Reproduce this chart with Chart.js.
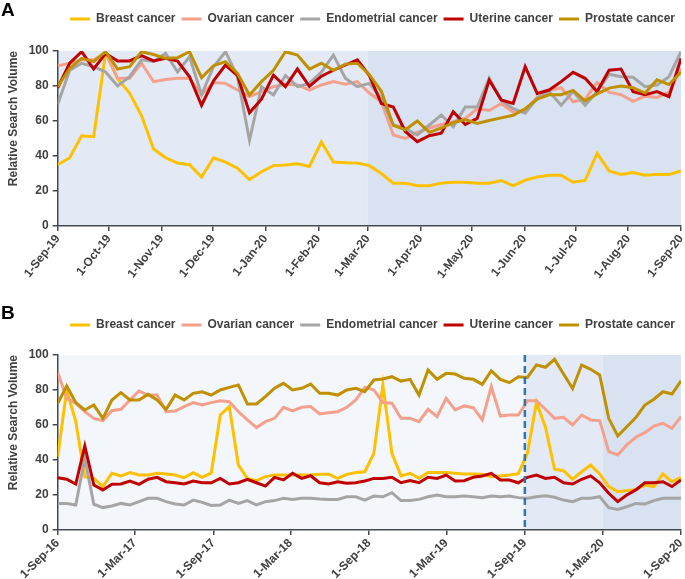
<!DOCTYPE html>
<html>
<head>
<meta charset="utf-8">
<script src="https://cdn.jsdelivr.net/npm/chart.js@4.4.1/dist/chart.umd.min.js"></script>
<style>
    body { margin: 0; background: #ffffff; width: 685px; height: 579px; overflow: hidden; position: relative; }
    .panel { position: absolute; left: 0; width: 685px; }
</style>
</head>
<body>
<div class="panel" style="top:0"><canvas id="chartA" width="685" height="290"></canvas></div>
<div class="panel" style="top:290px"><canvas id="chartB" width="685" height="289"></canvas></div>
<script>
// series names and colours (same for both panels)
const seriesNames = ['Breast cancer', 'Ovarian cancer', 'Endometrial cancer', 'Uterine cancer', 'Prostate cancer'];
const seriesColors = ['#FFC000', '#F4A08C', '#A5A5A5', '#C00000', '#BF9000'];

// panel A: weekly, 1-Sep-19 .. 1-Sep-20
const ticksA = ['1-Sep-19', '1-Oct-19', '1-Nov-19', '1-Dec-19', '1-Jan-20', '1-Feb-20', '1-Mar-20',
    '1-Apr-20', '1-May-20', '1-Jun-20', '1-Jul-20', '1-Aug-20', '1-Sep-20'];
const periodsA = ['1-Sep-19', '1-Mar-20', '1-Sep-20'];

const breastA = [35, 39, 51.5, 51, 99, 84, 76, 63, 44, 39, 36, 35, 28, 39, 36.5, 33, 26.5, 31, 34.5, 34.8,
    35.6, 34, 48, 36.6, 36.2, 36, 34.5, 30, 24.5, 24.5, 23, 23, 24.5, 25, 25, 24.5, 24.5, 26, 23, 26.2,
    28, 29, 29, 25, 26, 41.5, 31.5, 29.5, 30.5, 29, 29.5, 29.5, 31.5];
const ovarianA = [91.5, 93, 95, 95, 99, 84.4, 84.4, 93, 82.5, 83.7, 84.4, 84.4, 75, 82, 81.5, 77.7, 74, 76.8,
    79.6, 81, 80.6, 77.7, 80.6, 82.5, 81, 82.5, 76, 71, 52, 50, 53.5, 56, 58, 59.6, 61.5, 67, 66, 70, 65,
    66, 73.5, 77.5, 79, 71, 72.5, 82, 76.5, 75, 71.2, 74.2, 73.5, 76.5, 90];
const endometrialA = [69.5, 89, 93, 91, 88, 80, 85.3, 95, 94, 98.7, 88, 96.7, 75, 91, 99.6, 85.3, 49, 79.6,
    74.9, 86, 79.6, 81.5, 88, 97.7, 84.4, 79.6, 81.5, 73, 57.7, 55.8, 52, 57.7, 63.4, 56.7, 68, 68, 84.4,
    72, 67, 64.4, 73, 76.8, 69, 76.8, 69, 76.8, 86.7, 85.3, 85, 79.6, 80.6, 85.3, 99.6];
const uterineA = [79, 93, 99.6, 89.7, 98.6, 94.3, 94.3, 97.3, 94.3, 95.8, 94.3, 85.3, 69, 83, 92, 86, 64.7,
    72.5, 86.2, 79.6, 89.7, 79.8, 85.6, 89, 92, 94.9, 86, 70, 68, 54, 48.2, 51.6, 53, 65.3, 58, 61.5, 83.4,
    72, 70, 91, 75.8, 77.7, 82.5, 87.8, 84.4, 76.8, 89, 89.7, 76.8, 75, 76.8, 73.9, 95.8];
const prostateA = [79.6, 90, 95.8, 93.9, 99.6, 89.7, 91, 99.6, 98, 95.8, 96.2, 99.6, 84.8, 91.6, 93.9, 87.2,
    74.9, 82.5, 89, 99.6, 97.7, 89.7, 93, 89, 92.5, 93, 86.5, 77, 57.5, 55, 60, 53.5, 56, 59, 60.8, 58.6,
    60.3, 61.8, 63.3, 67, 72.5, 75, 75, 77.5, 71.5, 75.5, 78.8, 80, 79, 76, 83.5, 80.8, 88];

// panel B: 1-Sep-16 .. 1-Sep-20
const ticksB = ['1-Sep-16', '1-Mar-17', '1-Sep-17', '1-Mar-18', '1-Sep-18', '1-Mar-19', '1-Sep-19',
    '1-Mar-20', '1-Sep-20'];
const periodsB = ['1-Sep-16', '1-Sep-19', '1-Mar-20', '1-Sep-20'];
const markerB = '1-Sep-19';

const breastB = [41.9, 80, 62, 30.5, 29.5, 24.8, 32.4, 30.9, 32.8, 31.4, 31.4, 32.4, 32, 31.4, 29.9, 32.8,
    30.1, 32.6, 65.7, 70.5, 37.1, 29.5, 28.2, 30.5, 31.4, 31.4, 31.4, 31.4, 31.4, 31.8, 31.8, 29.5, 31.8,
    32.8, 33.3, 43.8, 82.9, 43.8, 30.9, 32.4, 29.5, 32.8, 32.8, 32.8, 32.4, 32, 32, 31.8, 30.5, 30.9, 31.4,
    32.2, 43.8, 72.8, 58.7, 34.7, 33.9, 29, 33.3, 37.1, 32, 24.8, 21.9, 22.5, 23.2, 25.7, 24.8, 32, 27.6, 29.9];
const ovarianB = [90, 75.2, 72.4, 67.6, 63.8, 62.5, 68.2, 69, 74.3, 79.4, 77.1, 77.1, 67.6, 68, 70.5, 72.8,
    71.4, 72.8, 73.9, 73.3, 67.6, 62.9, 58.5, 61.9, 63.8, 70.1, 68, 70.1, 70.5, 66.3, 67, 67.6, 70.1, 74.3,
    81.5, 80, 72.8, 72.4, 63.8, 63.8, 61.9, 69, 64.8, 75.2, 68.6, 70.9, 69.9, 62.9, 81.9, 65.1, 65.7, 65.7,
    73.9, 73.9, 69, 63.8, 64.4, 60, 65.7, 62.9, 62.5, 44.8, 42.9, 48.6, 53, 55.6, 59.4, 61, 58.1, 64.8];
const endometrialB = [15.2, 15.2, 14.3, 41, 14.7, 12.8, 13.7, 15.2, 14.3, 16.2, 18.1, 18.1, 16.2, 14.9, 14.3,
    17.1, 15.8, 14, 14.3, 17.1, 15.2, 16.8, 14.3, 16.2, 16.8, 18.1, 17.5, 18.1, 18.1, 17.7, 17.5, 17.5, 19,
    19, 17.1, 19.4, 19, 21.3, 16.8, 16.8, 17.5, 19, 20, 19, 19, 19.4, 19, 18.5, 19.4, 19, 19.4, 18.5, 18.1,
    19, 19.6, 18.7, 17.1, 16.2, 18.1, 18.1, 19, 12.8, 11.8, 13.3, 15.2, 14.9, 16.8, 18.1, 18.1, 18.1];
const uterineB = [29.9, 29, 26.3, 48, 25.7, 22.9, 26.1, 26.3, 28, 26.1, 29, 30.1, 27.6, 27, 26.3, 28, 27, 27,
    29.5, 26.3, 27, 29, 27, 25.1, 30.1, 28.6, 32.4, 29.5, 31, 27, 26.3, 27.6, 26.7, 27, 28, 29.5, 29.5,
    30.1, 27, 28.2, 27, 30.1, 29.5, 31.4, 28, 28.2, 30.1, 30.9, 32.4, 28.6, 28.6, 27, 30.1, 31.4, 29.5,
    30.1, 27, 26.3, 29, 30.9, 27, 21, 16.2, 20, 22.9, 27, 27, 27.6, 24.8, 28.6];
const prostateB = [72.4, 82.3, 72.8, 68.6, 71.4, 63.8, 74.3, 78.5, 74.3, 74.3, 77.5, 74.3, 69, 77.1, 74.3,
    78.1, 79, 77.1, 80, 81.5, 82.9, 72, 72, 76.2, 81, 83.8, 80, 81, 83.4, 78.1, 78.1, 77.1, 80, 81, 79,
    85.7, 86.3, 87.6, 85.1, 86.1, 77.1, 91.4, 86.1, 89.5, 89.1, 86.7, 86.1, 83.2, 91, 86.1, 84.2, 87.6,
    87.2, 94.3, 93, 97.5, 89.1, 80.9, 94.3, 91.8, 88.6, 63.8, 53.7, 59, 64.2, 71.4, 74.7, 79, 77.7, 85.3];

const textColor = '#404040';
const axisColor = '#454850';
const fontFamily = 'Arial, "Liberation Sans", sans-serif';
Chart.defaults.font.family = fontFamily;

const MONTHS = ['Jan', 'Feb', 'Mar', 'Apr', 'May', 'Jun', 'Jul', 'Aug', 'Sep', 'Oct', 'Nov', 'Dec'];
const toDate = (s) => {
    const [d, m, y] = s.split('-');
    return Date.UTC(2000 + Number(y), MONTHS.indexOf(m), Number(d));
};

//tlo okresow, linia przerywana i litera panelu
const panelDeco = {
    id: 'panelDeco',
    beforeDraw(chart, args, opts) {
        const {ctx, chartArea: a, scales: {x}} = chart;
        ctx.save();
        for (let k = 0; k < opts.edges.length - 1; k++) {
            const x0 = x.getPixelForValue(opts.edges[k]);
            const x1 = x.getPixelForValue(opts.edges[k + 1]);
            ctx.fillStyle = opts.colors[k];
            ctx.fillRect(x0, a.top, x1 - x0, a.bottom - a.top);
        }
        ctx.restore();
    },
    afterDatasetsDraw(chart, args, opts) {
        if (opts.marker == null) return;
        const {ctx, chartArea: a, scales: {x}} = chart;
        const px = x.getPixelForValue(opts.marker);
        ctx.save();
        ctx.strokeStyle = '#2E75B6';
        ctx.lineWidth = 2.5;
        ctx.setLineDash([7, 4]);
        ctx.beginPath();
        ctx.moveTo(px, a.top);
        ctx.lineTo(px, a.bottom);
        ctx.stroke();
        ctx.restore();
    },
    afterDraw(chart, args, opts) {
        const {ctx} = chart;
        ctx.save();
        ctx.fillStyle = '#000000';
        ctx.font = 'bold 19px ' + fontFamily;
        ctx.textBaseline = 'alphabetic';
        ctx.fillText(opts.letter, 1, opts.letterY);
        ctx.restore();
    }
};

function buildChart(canvasId, cfg) {
    const start = toDate(cfg.ticks[0]);
    const day = (s) => (toDate(s) - start) / 86400000;
    const span = day(cfg.ticks[cfg.ticks.length - 1]);
    const tickDays = cfg.ticks.map(day);
    // legend box = 12 (item) + 6 (padding) + 10
    const gap = cfg.plotTop - cfg.legendTop - 28;

    const datasets = cfg.values.map((vals, i) => {
        const step = span / (vals.length - 1);
        return {
            label: seriesNames[i],
            data: vals.map((v, k) => ({x: k * step, y: v})),
            borderColor: seriesColors[i],
            backgroundColor: seriesColors[i],
            borderWidth: 3,
            pointRadius: 0,
            tension: 0,
            order: seriesNames.length - i
        };
    });

    return new Chart(document.getElementById(canvasId), {
        type: 'line',
        data: { datasets },
        plugins: [panelDeco],
        options: {
            responsive: false,
            animation: false,
            layout: { padding: { top: cfg.legendTop, right: 4, bottom: 0, left: 0 } },
            plugins: {
                tooltip: { enabled: false },
                legend: {
                    position: 'top',
                    align: 'end',
                    labels: {
                        usePointStyle: true,
                        pointStyle: 'line',
                        pointStyleWidth: 20,
                        padding: 6,
                        color: textColor,
                        font: { size: 12, weight: 'bold' },
                        sort: (a, b) => a.datasetIndex - b.datasetIndex
                    }
                },
                // pusty tytul jako odstep miedzy legenda a wykresem
                title: {
                    display: true,
                    text: ' ',
                    weight: 500,
                    padding: 0,
                    font: { size: gap, lineHeight: 1 }
                },
                panelDeco: {
                    edges: cfg.periods.map(day),
                    colors: cfg.shades,
                    marker: cfg.marker ? day(cfg.marker) : null,
                    letter: cfg.letter,
                    letterY: cfg.letterY
                }
            },
            scales: {
                x: {
                    type: 'linear',
                    min: 0,
                    max: span,
                    afterBuildTicks: (s) => { s.ticks = tickDays.map(v => ({value: v})); },
                    afterFit: (s) => { s.height = cfg.xHeight; s.paddingLeft = 0; s.paddingRight = 0; },
                    ticks: {
                        autoSkip: false,
                        minRotation: cfg.rotation,
                        maxRotation: cfg.rotation,
                        padding: 1,
                        color: textColor,
                        font: { size: 12, weight: 'bold' },
                        callback: (v, i) => cfg.ticks[i]
                    },
                    grid: { drawOnChartArea: false, drawTicks: true, tickLength: 5, color: axisColor, lineWidth: 1.5 },
                    border: { color: axisColor, width: 1.5 }
                },
                y: {
                    min: 0,
                    max: 100,
                    afterFit: (s) => { s.width = 57.7; s.paddingTop = cfg.plotTop; s.paddingBottom = 0; },
                    ticks: { stepSize: 20, padding: 4, color: textColor, font: { size: 12, weight: 'bold' } },
                    title: {
                        display: true,
                        text: 'Relative Search Volume',
                        align: 'end',
                        color: textColor,
                        font: { size: 12, weight: 'bold' },
                        padding: { top: 6, bottom: 0 }
                    },
                    grid: { drawOnChartArea: false, drawTicks: true, tickLength: 5, color: axisColor, lineWidth: 1.5 },
                    border: { color: axisColor, width: 1.5 }
                }
            }
        }
    });
}

buildChart('chartA', {
    ticks: ticksA,
    periods: periodsA,
    shades: ['#E3EAF5', '#D9E2F1'],
    values: [breastA, ovarianA, endometrialA, uterineA, prostateA],
    letter: 'A', letterY: 16,
    legendTop: 7, plotTop: 51, xHeight: 64, rotation: 52
});

buildChart('chartB', {
    ticks: ticksB,
    periods: periodsB,
    shades: ['#F3F6FA', '#E3EAF5', '#D9E2F1'],
    marker: markerB,
    values: [breastB, ovarianB, endometrialB, uterineB, prostateB],
    letter: 'B', letterY: 29,
    legendTop: 23, plotTop: 65, xHeight: 49, rotation: 45
});
</script>
</body>
</html>
